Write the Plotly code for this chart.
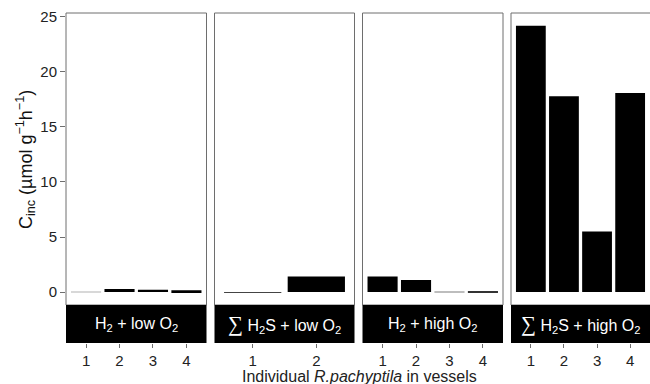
import plotly.graph_objects as go

# ---- data ----
panel_labels = [
    "H<sub>2</sub> + low O<sub>2</sub>",
    "<span style=\"font-size:21px;font-family:'Liberation Serif'\">∑</span> H<sub>2</sub>S + low O<sub>2</sub>",
    "H<sub>2</sub> + high O<sub>2</sub>",
    "<span style=\"font-size:21px;font-family:'Liberation Serif'\">∑</span> H<sub>2</sub>S + high O<sub>2</sub>",
]
individuals_h2_low = [1, 2, 3, 4]
values_h2_low = [0.02, 0.28, 0.2, 0.16]
individuals_h2s_low = [1, 2]
values_h2s_low = [-0.04, 1.42]
individuals_h2_high = [1, 2, 3, 4]
values_h2_high = [1.42, 1.1, 0.02, 0.08]
individuals_h2s_high = [1, 2, 3, 4]
values_h2s_high = [24.2, 17.8, 5.5, 18.1]
y_ticks = [0, 5, 10, 15, 20, 25]

panels = [
    (individuals_h2_low, values_h2_low),
    (individuals_h2s_low, values_h2s_low),
    (individuals_h2_high, values_h2_high),
    (individuals_h2s_high, values_h2s_high),
]
# near-zero bars render as hairlines in the reference (anti-aliased), so lighten them
bar_colors = [
    ["#d8d8d8", "black", "black", "black"],
    ["#444444", "black"],
    ["black", "black", "#bdbdbd", "#333333"],
    ["black", "black", "black", "black"],
]

W, H = 650, 384
ml, mr, mt, mb = 66, 0, 13, 41
pw = W - ml - mr
ph = H - mt - mb

def px_x(p):
    return (p - ml) / pw

def px_y(p):
    return (H - mb - p) / ph

panel_px = [(66, 206.5), (214.5, 354.5), (362.5, 503), (511, 651)]
strip_top = px_y(305)

fig = go.Figure()
font_family = "Liberation Sans, Arial, sans-serif"
border = "#6e6e6e"

for i, (xs, ys) in enumerate(panels):
    n = i + 1
    xa = "x" if n == 1 else f"x{n}"
    fig.add_trace(go.Bar(
        x=xs, y=ys, width=0.9, xaxis=xa, yaxis="y",
        marker=dict(color=bar_colors[i], line=dict(width=0)),
        showlegend=False,
    ))
    x0, x1 = panel_px[i]
    dom = [px_x(x0), min(1.0, px_x(x1))]
    fig.layout[f"xaxis{n if n > 1 else ''}"] = dict(
        domain=dom, anchor="free", position=0,
        range=[0.4, len(xs) + 0.6],
        tickvals=xs, ticktext=[str(v) for v in xs],
        ticks="outside", ticklen=4, tickcolor=border, tickwidth=1,
        showgrid=False, zeroline=False, showline=False,
        tickfont=dict(size=15, color="#222", family=font_family),
        fixedrange=True,
    )
    # panel border
    fig.add_shape(type="rect", xref="paper", yref="paper",
                  x0=px_x(x0), x1=px_x(x1), y0=strip_top, y1=1,
                  line=dict(color=border, width=1), fillcolor="rgba(0,0,0,0)",
                  layer="above")
    # strip
    fig.add_shape(type="rect", xref="paper", yref="paper",
                  x0=px_x(x0), x1=px_x(x1), y0=0, y1=strip_top,
                  line=dict(width=0), fillcolor="black", layer="above")
    fig.add_annotation(xref="paper", yref="paper",
                       x=(px_x(x0) + px_x(min(x1, 650))) / 2, y=strip_top / 2,
                       text=panel_labels[i], showarrow=False,
                       font=dict(size=16, color="white", family=font_family),
                       xanchor="center", yanchor="middle")

fig.update_layout(
    width=W, height=H,
    margin=dict(l=ml, r=mr, t=mt, b=mb),
    paper_bgcolor="white", plot_bgcolor="white",
    bargap=0.1,
    yaxis=dict(
        domain=[strip_top, 1], anchor="x",
        range=[-1.18, 25.36],
        tickvals=y_ticks, ticks="outside", ticklen=5, tickcolor=border,
        showgrid=False, zeroline=False, showline=False,
        tickfont=dict(size=15, color="#222", family=font_family),
        fixedrange=True,
    ),
)

fig.add_annotation(xref="paper", yref="paper", x=px_x(25), y=px_y(160),
                   text="C<sub>inc</sub> (µmol g<sup>−1</sup>h<sup>−1</sup>)",
                   textangle=-90, showarrow=False,
                   xanchor="center", yanchor="middle",
                   font=dict(size=18, color="#111", family=font_family))

fig.add_annotation(xref="paper", yref="paper", x=px_x(359), y=px_y(376),
                   text="Individual <i>R.pachyptila</i> in vessels",
                   showarrow=False, yanchor="middle", xanchor="center",
                   font=dict(size=16, color="#222", family=font_family))

fig.write_html("out.html")
